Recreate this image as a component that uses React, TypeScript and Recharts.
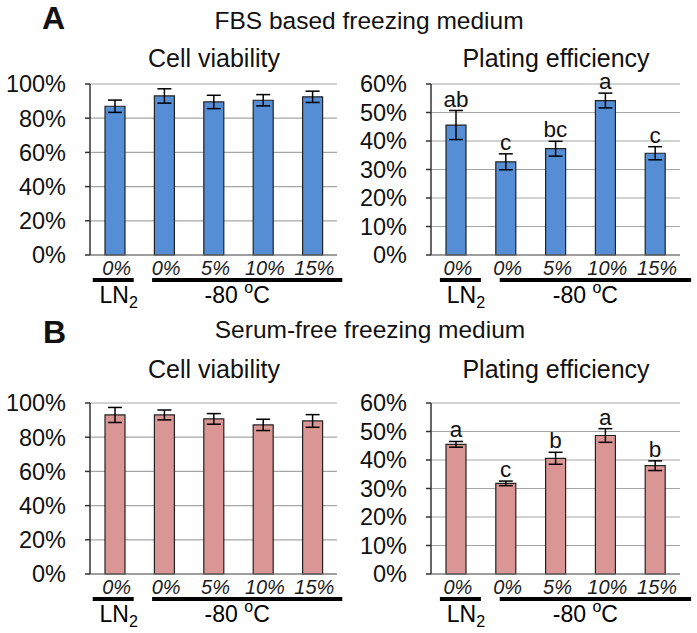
import React from 'react';
import {ComposedChart, Bar, Line, XAxis, YAxis, CartesianGrid, ErrorBar, LabelList} from 'recharts';

const groups = ['0%', '0%', '5%', '10%', '15%'];

const fbsViability = [87, 93, 89.5, 90.5, 92.5];
const fbsViabilityErr = [3.6, 4.2, 3.9, 3.3, 3.3];
const fbsPlating = [45.6, 32.7, 37.3, 54.2, 35.7];
const fbsPlatingErr = [5.1, 2.8, 2.6, 2.6, 2.3];
const fbsLetters = ['ab', 'c', 'bc', 'a', 'c'];

const sfViability = [93, 93, 90.7, 87.2, 89.5];
const sfViabilityErr = [4.4, 2.9, 3.1, 3.3, 3.7];
const sfPlating = [45.5, 31.8, 40.6, 48.6, 38.0];
const sfPlatingErr = [1.0, 0.8, 2.1, 2.4, 1.7];
const sfLetters = ['a', 'c', 'b', 'a', 'b'];

const viabilityTicks = [0, 20, 40, 60, 80, 100];
const platingTicks = [0, 10, 20, 30, 40, 50, 60];

const FONT = '"Liberation Sans", Arial, sans-serif';
const BLUE = '#558ED5';
const PINK = '#D99694';

interface PanelProps {
    values: number[];
    errors: number[];
    letters?: string[];
    color: string;
    ticks: number[];
    left: number;
    top: number;
    width: number;
    yAxisWidth: number;
    marginRight: number;
    shift: number;
}

// plot is 171px tall; extra room on top for the letters, below for the group labels
const MARGIN_TOP = 34;
const PLOT_H = 171;
const XAXIS_H = 58;
const HEIGHT = MARGIN_TOP + PLOT_H + XAXIS_H;

const Panel: React.FC<PanelProps> = ({values, errors, letters, color, ticks, left, top, width, yAxisWidth, marginRight, shift}) => {
    const data = groups.map((g, i) => ({
        name: `${g}-${i}`,
        value: values[i],
        err: errors[i],
        top: values[i] + errors[i],
        letter: letters ? letters[i] : '',
    }));
    const band = (width - yAxisWidth - marginRight) / groups.length;

    const renderTick = (props: any) => {
        const {x, y, index} = props;
        return (
            <g>
                <text x={x + 2} y={y + 20} textAnchor="middle" fontStyle="italic" fontSize={20}
                      fontFamily={FONT} fill="#1a1a1a">{groups[index]}</text>
                {index === 0 && (
                    <g>
                        <rect x={x - 22 + shift} y={y + 23} width={41} height={4} fill="#000"/>
                        <text x={x + 4 + shift} y={y + 48} textAnchor="middle" fontSize={23}
                              fontFamily={FONT} fill="#000">LN<tspan dy={5} fontSize={16}>2</tspan></text>
                    </g>
                )}
                {index === 1 && (
                    <g>
                        <rect x={x - 12 + shift} y={y + 23} width={3 * band + 42} height={4} fill="#000"/>
                        <text x={x + 1.5 * band - 1 + shift} y={y + 48} textAnchor="middle" fontSize={23}
                              fontFamily={FONT} fill="#000">
                            -80 <tspan dy={-10} fontSize={16}>o</tspan><tspan dy={10}>C</tspan>
                        </text>
                    </g>
                )}
            </g>
        );
    };

    return (
        <div style={{position: 'absolute', left, top}}>
            <ComposedChart width={width} height={HEIGHT} data={data}
                           margin={{top: MARGIN_TOP, right: marginRight, left: 0, bottom: 0}}>
                <CartesianGrid vertical={false} stroke="#a6a6a6" strokeWidth={1.2}/>
                <XAxis dataKey="name" height={XAXIS_H} tickLine={false} tickSize={0} tickMargin={0}
                       axisLine={{stroke: '#6b6b6b', strokeWidth: 1.2}} tick={renderTick} interval={0}/>
                <YAxis domain={[0, ticks[ticks.length - 1]]} ticks={ticks} width={yAxisWidth} interval={0}
                       tickFormatter={(v) => `${v}%`} tickSize={5} tickMargin={19}
                       axisLine={{stroke: '#333', strokeWidth: 1.5}} tickLine={{stroke: '#333', strokeWidth: 1.5}}
                       tick={{fontSize: 23.5, fontFamily: FONT, fill: '#111'}}/>
                <Bar dataKey="value" fill={color} stroke="#222" strokeWidth={1.2} barSize={20}
                     isAnimationActive={false}>
                    <ErrorBar dataKey="err" width={7} stroke="#000" strokeWidth={1.5}/>
                </Bar>
                {letters && (
                    <Line dataKey="top" stroke="none" dot={false} activeDot={false} isAnimationActive={false}>
                        <LabelList dataKey="letter" position="top" offset={4} fontSize={22.5}
                                   fontFamily={FONT} fill="#111"/>
                    </Line>
                )}
            </ComposedChart>
        </div>
    );
};

const titleStyle = {fontFamily: FONT, fill: '#111'};

export default function App() {
    return (
        <div style={{position: 'absolute', left: 0, top: 0, width: 697, height: 633, background: '#fff', overflow: 'hidden'}}>
            <svg width={697} height={633} style={{position: 'absolute', left: 0, top: 0}}>
                <text x={42} y={29} fontSize={32} fontWeight="bold" {...titleStyle}>A</text>
                <text x={369} y={29} fontSize={24.5} textAnchor="middle" {...titleStyle}>FBS based freezing medium</text>
                <text x={214} y={67} fontSize={25} textAnchor="middle" {...titleStyle}>Cell viability</text>
                <text x={556} y={67} fontSize={25} textAnchor="middle" {...titleStyle}>Plating efficiency</text>
                <text x={43} y={343} fontSize={32} fontWeight="bold" {...titleStyle}>B</text>
                <text x={370} y={338} fontSize={24.5} textAnchor="middle" {...titleStyle}>Serum-free freezing medium</text>
                <text x={214} y={378} fontSize={25} textAnchor="middle" {...titleStyle}>Cell viability</text>
                <text x={556} y={378} fontSize={25} textAnchor="middle" {...titleStyle}>Plating efficiency</text>
            </svg>
            <Panel values={fbsViability} errors={fbsViabilityErr} color={BLUE} ticks={viabilityTicks}
                   left={0} top={50} width={345} yAxisWidth={90} marginRight={8} shift={0}/>
            <Panel values={fbsPlating} errors={fbsPlatingErr} letters={fbsLetters} color={BLUE} ticks={platingTicks}
                   left={345} top={50} width={352} yAxisWidth={86} marginRight={17} shift={6}/>
            <Panel values={sfViability} errors={sfViabilityErr} color={PINK} ticks={viabilityTicks}
                   left={0} top={369} width={345} yAxisWidth={90} marginRight={8} shift={0}/>
            <Panel values={sfPlating} errors={sfPlatingErr} letters={sfLetters} color={PINK} ticks={platingTicks}
                   left={345} top={369} width={352} yAxisWidth={86} marginRight={17} shift={6}/>
        </div>
    );
}
